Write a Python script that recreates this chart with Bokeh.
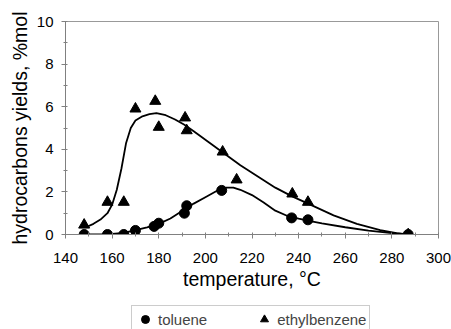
from bokeh.plotting import figure
from bokeh.layouts import column
from bokeh.models import Range1d, SingleIntervalTicker, Legend, LegendItem
from bokeh.embed import file_html
from bokeh.resources import INLINE

# measured yields, %mol, against reaction temperature, °C
toluene_t = [148, 158, 165, 170, 178, 180, 191, 192, 207, 237, 244, 287]
toluene_y = [0.0, 0.0, 0.0, 0.19, 0.38, 0.53, 1.0, 1.35, 2.07, 0.78, 0.69, 0.0]

ethylbenzene_t = [148, 158, 165, 170, 178.5, 180, 191.3, 192, 207.4, 213.4, 237.3, 244, 287]
ethylbenzene_y = [0.45, 1.52, 1.52, 5.9, 6.26, 5.04, 5.48, 4.88, 3.88, 2.57, 1.91, 1.52, 0.0]

# smoothed trend lines
toluene_fit_t = [149, 155, 160, 165, 170, 175, 180, 185, 190, 195, 200, 205, 209, 212,
                 215, 220, 225, 230, 235, 240, 245, 250, 260, 270, 280, 287]
toluene_fit_y = [0.0, 0.01, 0.03, 0.08, 0.2, 0.33, 0.5, 0.75, 1.1, 1.45, 1.75, 2.05, 2.2, 2.2,
                 2.1, 1.85, 1.5, 1.12, 0.88, 0.74, 0.63, 0.52, 0.34, 0.18, 0.06, 0.0]

ethylbenzene_fit_t = [149, 152, 155, 158, 160, 162, 164, 166, 168, 170, 173, 176, 179, 183,
                      187, 191, 195, 200, 205, 210, 215, 220, 225, 230, 237, 245, 255, 265,
                      275, 282, 287]
ethylbenzene_fit_y = [0.35, 0.5, 0.7, 1.0, 1.4, 2.1, 3.1, 4.3, 5.0, 5.35, 5.55, 5.65, 5.7, 5.6,
                      5.4, 5.15, 4.85, 4.45, 4.05, 3.65, 3.25, 2.9, 2.55, 2.2, 1.8, 1.4, 0.9, 0.5,
                      0.2, 0.06, 0.0]

series_names = ["toluene", "ethylbenzene"]

FONT = "Liberation Sans"
AXIS_GREY = "#808080"

p = figure(width=451, height=300, output_backend="svg", toolbar_location=None,
           x_range=Range1d(140, 300), y_range=Range1d(0, 10),
           min_border_left=65, min_border_right=13, min_border_top=21, min_border_bottom=66)

p.xgrid.visible = False
p.ygrid.visible = False
p.outline_line_color = "#999999"
p.outline_line_width = 1

p.line(ethylbenzene_fit_t, ethylbenzene_fit_y, line_color="black", line_width=1.8)
p.line(toluene_fit_t, toluene_fit_y, line_color="black", line_width=1.8)

p.scatter(ethylbenzene_t, ethylbenzene_y, marker="triangle", size=11,
          fill_color="black", line_color="black")
p.scatter(toluene_t, toluene_y, marker="circle", size=10,
          fill_color="black", line_color="black")

p.xaxis.ticker = SingleIntervalTicker(interval=20, num_minor_ticks=2)
p.yaxis.ticker = SingleIntervalTicker(interval=2, num_minor_ticks=2)

for ax in (p.xaxis[0], p.yaxis[0]):
    ax.axis_line_color = AXIS_GREY
    ax.major_tick_line_color = AXIS_GREY
    ax.minor_tick_line_color = AXIS_GREY
    ax.major_tick_in = 0
    ax.major_tick_out = 4
    ax.minor_tick_in = 2
    ax.minor_tick_out = 2
    ax.major_label_text_font = FONT
    ax.major_label_text_font_size = "15px"
    ax.major_label_text_color = "black"
    ax.axis_label_text_font = FONT
    ax.axis_label_text_font_size = "19.5px"
    ax.axis_label_text_font_style = "normal"
    ax.axis_label_text_color = "black"

p.xaxis.axis_label = "temperature, °C"
p.yaxis.axis_label = "hydrocarbons yields, %mol"
p.xaxis.major_label_standoff = 14
p.xaxis.axis_label_standoff = 2
p.yaxis.major_label_standoff = 8
p.yaxis.axis_label_standoff = 3

# key strip under the chart; its scatter copies sit outside the strip's ranges
key = figure(width=451, height=29, output_backend="svg", toolbar_location=None,
             x_range=Range1d(0, 1), y_range=Range1d(0, 1), min_border=0,
             x_axis_location=None, y_axis_location=None)
key.xgrid.visible = False
key.ygrid.visible = False
key.outline_line_color = None

k_tol = key.scatter(toluene_t, toluene_y, marker="circle", size=10,
                    fill_color="black", line_color="black")
k_eb = key.scatter(ethylbenzene_t, ethylbenzene_y, marker="triangle", size=11,
                   fill_color="black", line_color="black")

legend = Legend(items=[LegendItem(label=series_names[0], renderers=[k_tol]),
                       LegendItem(label=series_names[1], renderers=[k_eb])],
                orientation="horizontal", location=(66, -4),
                glyph_width=20, glyph_height=20, label_height=20,
                label_standoff=3, spacing=47, padding=3, margin=0,
                label_text_font=FONT, label_text_font_size="15px",
                border_line_color="#999999", border_line_width=1,
                background_fill_alpha=1)
key.add_layout(legend, "center")

open("out.html", "w").write(file_html(column(p, key, spacing=0), INLINE))
